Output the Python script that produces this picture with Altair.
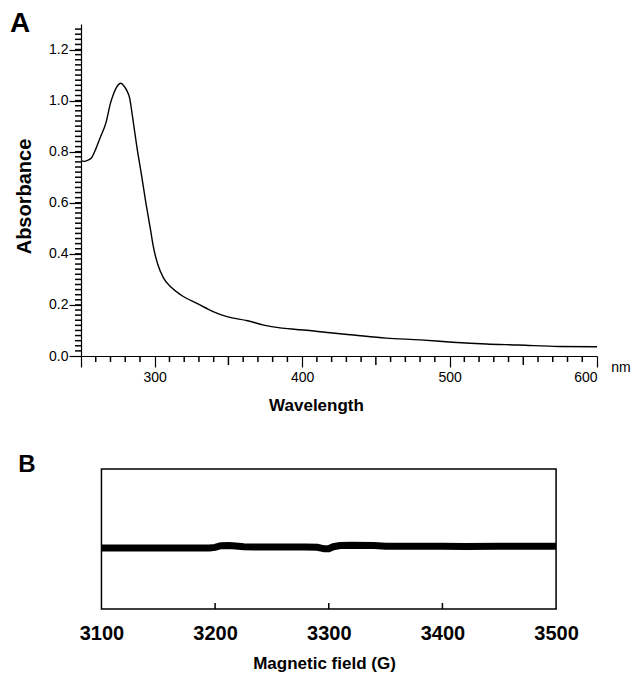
import altair as alt
import pandas as pd

# ---------- Panel A: UV-Vis absorbance ----------
wavelength = [250, 252, 255, 257, 260, 263, 267, 270, 272, 275, 277, 279, 281, 283,
              285, 288, 291, 294, 297, 299, 302, 306, 311, 318, 329, 340, 349, 363,
              374, 385, 396, 408, 419, 435, 457, 480, 502, 525, 547, 574, 600]
absorbance = [0.765, 0.762, 0.768, 0.775, 0.81, 0.855, 0.915, 0.99, 1.025, 1.06, 1.068,
              1.058, 1.04, 1.01, 0.935, 0.815, 0.71, 0.60, 0.50, 0.43, 0.36, 0.305,
              0.27, 0.238, 0.205, 0.173, 0.154, 0.138, 0.121, 0.11, 0.104, 0.098,
              0.091, 0.082, 0.070, 0.063, 0.054, 0.047, 0.043, 0.037, 0.036]

y_major = [0.0, 0.2, 0.4, 0.6, 0.8, 1.0, 1.2]
y_minor = [round(i * 0.02, 2) for i in range(1, 65)]
x_major = [250, 300, 400, 500, 600]
x_mid = [350, 450, 550]
x_minor = [v for v in range(260, 600, 10) if v % 50 != 0]

# ---------- Panel B: EPR spectrum ----------
field = [3100, 3120, 3140, 3160, 3180, 3195, 3200, 3205, 3212, 3218, 3225, 3240,
         3260, 3280, 3290, 3296, 3300, 3304, 3310, 3320, 3340, 3350, 3370, 3400,
         3420, 3450, 3480, 3500]
signal = [-0.128, -0.128, -0.130, -0.128, -0.130, -0.128, -0.120, -0.095, -0.092,
          -0.100, -0.112, -0.114, -0.114, -0.114, -0.118, -0.140, -0.138, -0.110,
          -0.092, -0.090, -0.094, -0.102, -0.104, -0.104, -0.106, -0.104, -0.104,
          -0.104]
b_ticks = [3100, 3200, 3300, 3400, 3500]
b_inner_ticks = [3200, 3300, 3400]
b_box = {"x": [3100], "x2": [3500], "y": [-1], "y2": [1]}

FONT = "Liberation Sans"
NARROW = "Liberation Sans Narrow, Liberation Sans, Arial"

dfA = pd.DataFrame({"wl": wavelength, "ab": absorbance})
dfB = pd.DataFrame({"g": field, "s": signal})

xsA = alt.Scale(domain=[250, 600], nice=False, zero=False)
ysA = alt.Scale(domain=[0, 1.3], nice=False, zero=True)

W = 516
HA = 332
HB = 140

lineA = alt.Chart(dfA).mark_line(color="black", strokeWidth=1.4, interpolate="monotone").encode(
    x=alt.X("wl:Q", scale=xsA,
            axis=alt.Axis(orient="bottom", values=x_major,
                          labelExpr="datum.value == 250 ? '' : datum.label",
                          tickSize=11, tickColor="black", domainColor="black",
                          domainWidth=1.2, tickWidth=1.2, grid=False,
                          labelFont=NARROW, labelFontSize=14, labelColor="black",
                          labelPadding=3, title="Wavelength", titleFont=FONT,
                          titleFontSize=17, titleFontWeight="bold", titleColor="black",
                          titleX=235, titleY=49, titleBaseline="middle",
                          titleAlign="center", titleAnchor="start")),
    y=alt.Y("ab:Q", scale=ysA,
            axis=alt.Axis(orient="left", values=y_major, format=".1f", tickSize=12,
                          tickColor="black", domainColor="black", domainWidth=1.2,
                          tickWidth=1.2, grid=False,
                          labelFont=NARROW, labelFontSize=14, labelColor="black",
                          labelPadding=1, title="Absorbance", titleFont=FONT,
                          titleFontSize=20, titleFontWeight="bold", titleColor="black",
                          titleX=-57, titleY=172, titleAngle=-90,
                          titleBaseline="middle", titleAlign="center", titleAnchor="start")),
)

# minor / mid ticks drawn as short rules hanging off the axes
minorX = alt.Chart(pd.DataFrame({"v": x_minor})).mark_rule(
    color="black", strokeWidth=1.5).encode(
    x=alt.X("v:Q", scale=xsA), y=alt.value(HA), y2=alt.value(HA + 6))

midX = alt.Chart(pd.DataFrame({"v": x_mid})).mark_rule(
    color="black", strokeWidth=1.5).encode(
    x=alt.X("v:Q", scale=xsA), y=alt.value(HA), y2=alt.value(HA + 9))

minorY = alt.Chart(pd.DataFrame({"v": y_minor})).mark_rule(
    color="black", strokeWidth=1.5).encode(
    y=alt.Y("v:Q", scale=ysA), x=alt.value(-6), x2=alt.value(1))

letterA = alt.Chart(pd.DataFrame({"t": ["A"]})).mark_text(
    font=FONT, fontSize=28, fontWeight="bold", color="black", align="center",
    baseline="middle").encode(text="t:N", x=alt.value(-61), y=alt.value(0))

nmA = alt.Chart(pd.DataFrame({"t": ["nm"]})).mark_text(
    font=NARROW, fontSize=14, color="black", align="center",
    baseline="middle").encode(text="t:N", x=alt.value(540), y=alt.value(344))

panelA = alt.layer(lineA, minorX, midX, minorY, letterA, nmA).properties(
    width=W, height=HA)

# ---------- Panel B ----------
xsB = alt.Scale(domain=[3082, 3536], nice=False, zero=False)
ysB = alt.Scale(domain=[-1, 1], nice=False, zero=False)

boxB = alt.Chart(pd.DataFrame(b_box)).mark_rect(
    fill=None, stroke="black", strokeWidth=1.5, fillOpacity=0).encode(
    x=alt.X("x:Q", scale=xsB,
            axis=alt.Axis(orient="bottom", values=b_ticks, format="d", ticks=False,
                          domain=False, grid=False,
                          labelFont=FONT, labelFontSize=20, labelFontWeight="bold",
                          labelColor="black", labelPadding=14,
                          title="Magnetic field (G)", titleFont=FONT, titleFontSize=17,
                          titleFontWeight="bold", titleColor="black",
                          titleX=243, titleY=54, titleBaseline="middle",
                          titleAlign="center", titleAnchor="start")),
    x2="x2:Q",
    y=alt.Y("y:Q", scale=ysB, axis=None),
    y2="y2:Q",
)

lineB = alt.Chart(dfB).mark_line(color="black", strokeWidth=7, strokeCap="butt").encode(
    x=alt.X("g:Q", scale=xsB),
    y=alt.Y("s:Q", scale=ysB),
)

ticksB = alt.Chart(pd.DataFrame({"g": b_inner_ticks})).mark_rule(
    color="black", strokeWidth=1.5).encode(
    x=alt.X("g:Q", scale=xsB), y=alt.value(HB), y2=alt.value(HB - 6))

letterB = alt.Chart(pd.DataFrame({"t": ["B"]})).mark_text(
    font=FONT, fontSize=24, fontWeight="bold", color="black", align="center",
    baseline="middle").encode(text="t:N", x=alt.value(-54), y=alt.value(-4))

panelB = alt.layer(boxB, lineB, ticksB, letterB).properties(width=W, height=HB)

chart = alt.vconcat(panelA, panelB, spacing=113, bounds="flush").properties(
    padding={"left": 1, "top": 2, "right": 0, "bottom": 3},
    background="white",
).configure_view(stroke=None)

chart.save("out.html", embed_options={"renderer": "svg", "actions": False})
